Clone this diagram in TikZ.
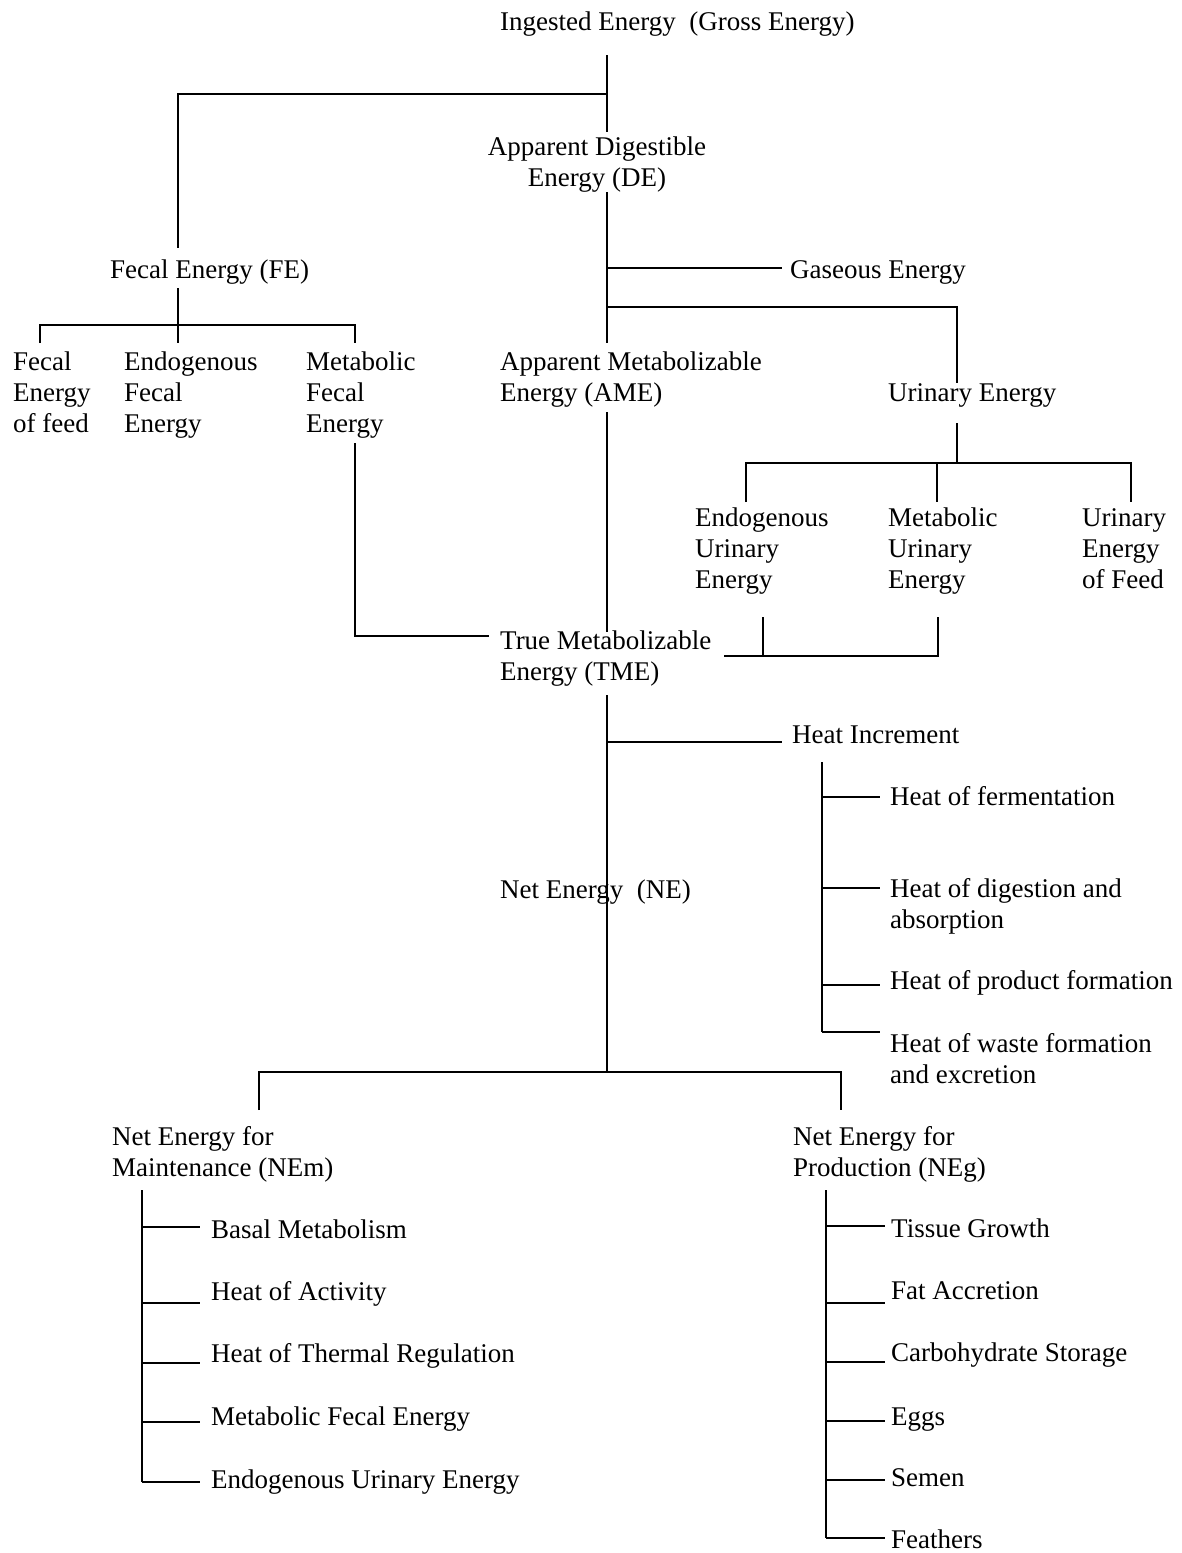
\documentclass[tikz,border=0pt]{standalone}
\usepackage{fontspec}
\setmainfont{Liberation Serif}
\begin{document}
\begin{tikzpicture}[x=1pt,y=-1pt,
  lbl/.style={anchor=base west, inner sep=0pt, font=\fontsize{27}{31}\selectfont},
  mlbl/.style={lbl, align=left},
  clbl/.style={anchor=base, inner sep=0pt, align=center, font=\fontsize{27}{31}\selectfont},
  conn/.style={draw=black, line width=1.4pt}]
\useasboundingbox (0,0) rectangle (1182,1553);
% ---------- texts (multi-line nodes are placed by the baseline of their last line) ----------
\node[lbl] (ige) at (500,30) {Ingested Energy~~(Gross Energy)};
\node[clbl] (de) at (597,186) {Apparent Digestible\\Energy (DE)};
\node[lbl] (fe) at (110,278) {Fecal Energy (FE)};
\node[lbl] (ge) at (790,278) {Gaseous Energy};
\node[mlbl] (ffeed) at (13,432) {Fecal\\Energy\\of feed};
\node[mlbl] (efe) at (124,432) {Endogenous\\Fecal\\Energy};
\node[mlbl] (mfe) at (306,432) {Metabolic\\Fecal\\Energy};
\node[mlbl] (ame) at (500,401) {Apparent Metabolizable\\Energy (AME)};
\node[lbl] (ue) at (888,401) {Urinary Energy};
\node[mlbl] (eue) at (695,588) {Endogenous\\Urinary\\Energy};
\node[mlbl] (mue) at (888,588) {Metabolic\\Urinary\\Energy};
\node[mlbl] (uef) at (1082,588) {Urinary\\Energy\\of Feed};
\node[mlbl] (tme) at (500,680) {True Metabolizable\\Energy (TME)};
\node[lbl] (hi) at (792,743) {Heat Increment};
\node[lbl] (hf) at (890,805) {Heat of fermentation};
\node[mlbl] (hda) at (890,928) {Heat of digestion and\\absorption};
\node[lbl] (hpf) at (890,989) {Heat of product formation};
\node[mlbl] (hwf) at (890,1083) {Heat of waste formation\\and excretion};
\node[lbl] (ne) at (500,898) {Net Energy~~(NE)};
\node[mlbl] (nem) at (112,1176) {Net Energy for\\Maintenance (NEm)};
\node[mlbl] (neg) at (793,1176) {Net Energy for\\Production (NEg)};
\node[lbl] (m1) at (211,1238) {Basal Metabolism};
\node[lbl] (m2) at (211,1300) {Heat of Activity};
\node[lbl] (m3) at (211,1362) {Heat of Thermal Regulation};
\node[lbl] (m4) at (211,1425) {Metabolic Fecal Energy};
\node[lbl] (m5) at (211,1488) {Endogenous Urinary Energy};
\node[lbl] (p1) at (891,1237) {Tissue Growth};
\node[lbl] (p2) at (891,1299) {Fat Accretion};
\node[lbl] (p3) at (891,1361) {Carbohydrate Storage};
\node[lbl] (p4) at (891,1425) {Eggs};
\node[lbl] (p5) at (891,1486) {Semen};
\node[lbl] (p6) at (891,1548) {Feathers};
% ---------- junction coordinates ----------
\coordinate (igeB) at (607,55);
\coordinate (deT) at (607,132);
\coordinate (jFE) at (607,94);
\coordinate (fecT) at (178,94);
\coordinate (feT) at (178,248);
\coordinate (deB) at (607,192);
\coordinate (jGE) at (607,268);
\coordinate (geL) at (782,268);
\coordinate (jUE) at (607,307);
\coordinate (ueC) at (957,307);
\coordinate (ueT) at (957,383);
\coordinate (ameT) at (607,343);
\coordinate (feB) at (178,288);
\coordinate (fbusL) at (40,325);
\coordinate (fbusR) at (355,325);
\coordinate (ffeedT) at (40,343);
\coordinate (efeT) at (178,343);
\coordinate (mfeT) at (355,343);
\coordinate (mfeB) at (355,443);
\coordinate (mfeC) at (355,636);
\coordinate (tmeL) at (489,636);
\coordinate (ameB) at (607,412);
\coordinate (tmeM) at (607,632);
\coordinate (ueB) at (957,423);
\coordinate (ubus) at (957,463);
\coordinate (ubusL) at (746,463);
\coordinate (ubusM) at (937,463);
\coordinate (ubusR) at (1131,463);
\coordinate (eueT) at (746,502);
\coordinate (mueT) at (937,502);
\coordinate (uefT) at (1131,502);
\coordinate (eueB) at (763,617);
\coordinate (mueB) at (938,617);
\coordinate (tbusL) at (724,656);
\coordinate (tbusE) at (763,656);
\coordinate (tbusM) at (938,656);
\coordinate (tmeB) at (607,695);
\coordinate (jHI) at (607,742);
\coordinate (hiL) at (782,742);
\coordinate (hiB) at (822,762);
\coordinate (h1) at (822,797);
\coordinate (h2) at (822,888);
\coordinate (h3) at (822,985);
\coordinate (h4) at (822,1032);
\coordinate (nbus) at (607,1072);
\coordinate (nbusL) at (259,1072);
\coordinate (nbusR) at (841,1072);
\coordinate (nemT) at (259,1110);
\coordinate (negT) at (841,1110);
\coordinate (nemB) at (142,1190);
\coordinate (negB) at (826,1190);
% ---------- connectors ----------
\draw[conn] (igeB) -- (deT);
\draw[conn] (jFE) -- (fecT) -- (feT);
\draw[conn] (deB) -- (ameT);
\draw[conn] (jGE) -- (geL);
\draw[conn] (jUE) -- (ueC) -- (ueT);
\draw[conn] (feB) -- (efeT);
\draw[conn] (ffeedT) -- (fbusL) -- (fbusR) -- (mfeT);
\draw[conn] (mfeB) -- (mfeC) -- (tmeL);
\draw[conn] (ameB) -- (tmeM);
\draw[conn] (ueB) -- (ubus);
\draw[conn] (eueT) -- (ubusL) -- (ubusR) -- (uefT);
\draw[conn] (ubusM) -- (mueT);
\draw[conn] (eueB) -- (tbusE);
\draw[conn] (mueB) -- (tbusM) -- (tbusL);
\draw[conn] (tmeB) -- (nbus);
\draw[conn] (jHI) -- (hiL);
\draw[conn] (hiB) -- (h4);
\foreach \c in {h1,h2,h3,h4} \draw[conn] (\c) -- ++(58,0);
\draw[conn] (nemT) -- (nbusL) -- (nbusR) -- (negT);
\draw[conn] (nemB) -- (142,1482);
\foreach \yy in {1227,1303,1363,1422,1482} \draw[conn] (142,\yy) -- (200,\yy);
\draw[conn] (negB) -- (826,1538);
\foreach \yy in {1226,1303,1362,1421,1480,1538} \draw[conn] (826,\yy) -- (885,\yy);
\end{tikzpicture}
\end{document}
